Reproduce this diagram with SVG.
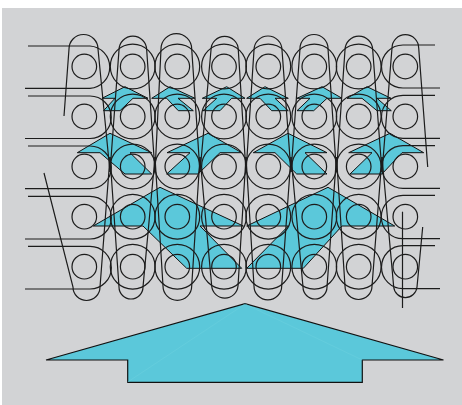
<svg xmlns="http://www.w3.org/2000/svg" width="462" height="405" viewBox="0 0 462 405">
<style>
.a{fill:#5bc8da;stroke:#111;stroke-width:1;stroke-linejoin:miter}
.b{fill:#5bc8da;stroke:#111;stroke-width:1.2;stroke-linejoin:miter}
.l{fill:none;stroke:#1c1c1c;stroke-width:1.2}
.f{fill:none;stroke:#6dd0df;stroke-width:.5}
.c{fill:none;stroke:#1c1c1c;stroke-width:1.2}
</style>
<defs>
<g id="cc"><circle class="c" r="22.4"/><circle class="c" r="12.3"/></g>
</defs>
<rect x="2" y="8" width="460" height="397" fill="#d2d3d5"/>
<g id="arrows">
<path class="a" d="M102,98.3L125,86.7L148,98.3H133L120,110.7H103.5L115,98.3Z"/>
<path class="a" d="M151.7,98.3L170,86.7L195,98.3H178L193.3,110.7H178.3L166.7,98.3Z"/>
<path class="a" d="M202.3,98.3L226.7,86.7L245,98.3H231.7L220,110.7H203L216.7,98.3Z"/>
<path class="a" d="M246.7,98.3L265,86.7L288.3,98.3H275L288.3,110.7H271.7L260,98.3Z"/>
<path class="a" d="M297,98.3L322,86.7L342,98.3H327L313.7,110.7H297L310,98.3Z"/>
<path class="a" d="M347,98.3L367,86.7L391,98.3H377L391.3,110.7H377L362,98.3Z"/>
<path class="a" d="M77.3,152.7L110,133.3L151.7,152.7H130L151.7,174H125L100,152.7Z"/>
<path class="a" d="M167,152.7L208,133.3L241.7,152.7H220L198,174H166.7L190,152.7Z"/>
<path class="a" d="M253.3,152.7L288,133.3L327,152.7H305L327,174H296.7L275,152.7Z"/>
<path class="a" d="M348.7,152.7L390,133.3L423.7,152.7H402L382,174H350L372,152.7Z"/>
<path class="a" d="M93.3,226L160,187.3L243.3,226H200L241.7,268.3H186.7L143,226Z"/>
<path class="a" d="M246.7,226L328,187.3L394.7,226H342L303.3,268.3H246.7L288.3,226Z"/>
</g>
<g id="circles">
<use href="#cc" x="132.7" y="66.5"/><use href="#cc" x="177.3" y="66.5"/><use href="#cc" x="224" y="66.5"/><use href="#cc" x="268.3" y="66.5"/><use href="#cc" x="314.3" y="66.5"/><use href="#cc" x="358.7" y="66.5"/>
<use href="#cc" x="132.7" y="116.5"/><use href="#cc" x="177.3" y="116.5"/><use href="#cc" x="224" y="116.5"/><use href="#cc" x="268.3" y="116.5"/><use href="#cc" x="314.3" y="116.5"/><use href="#cc" x="358.7" y="116.5"/>
<use href="#cc" x="132.7" y="166.5"/><use href="#cc" x="177.3" y="166.5"/><use href="#cc" x="224" y="166.5"/><use href="#cc" x="268.3" y="166.5"/><use href="#cc" x="314.3" y="166.5"/><use href="#cc" x="358.7" y="166.5"/>
<use href="#cc" x="132.7" y="216.7"/><use href="#cc" x="177.3" y="216.7"/><use href="#cc" x="224" y="216.7"/><use href="#cc" x="268.3" y="216.7"/><use href="#cc" x="314.3" y="216.7"/><use href="#cc" x="358.7" y="216.7"/>
<use href="#cc" x="132.7" y="266.7"/><use href="#cc" x="177.3" y="266.7"/><use href="#cc" x="224" y="266.7"/><use href="#cc" x="268.3" y="266.7"/><use href="#cc" x="314.3" y="266.7"/><use href="#cc" x="358.7" y="266.7"/>
<circle class="c" cx="84.3" cy="66.5" r="12.3"/><circle class="c" cx="84.3" cy="116.5" r="12.3"/><circle class="c" cx="84.3" cy="166.5" r="12.3"/><circle class="c" cx="84.3" cy="216.7" r="12.3"/><circle class="c" cx="84.3" cy="266.7" r="12.3"/>
<circle class="c" cx="405.3" cy="66.5" r="12.3"/><circle class="c" cx="405.3" cy="116.5" r="12.3"/><circle class="c" cx="405.3" cy="166.5" r="12.3"/><circle class="c" cx="405.3" cy="216.7" r="12.3"/><circle class="c" cx="405.3" cy="266.7" r="12.3"/>
</g>
<g id="connectors">
<path class="l" d="M28,46H90A21.2,21.2 0 0 1 90,88.3H25"/>
<path class="l" d="M28,96H90A21.2,21.2 0 0 1 90,138.5H25"/>
<path class="l" d="M28,146H90A21.3,21.3 0 0 1 90,188.7H25"/>
<path class="l" d="M28,196.3H90A21.3,21.3 0 0 1 90,239H25"/>
<path class="l" d="M28,246.3H90A21.3,21.3 0 0 1 90,289H25"/>
<path class="l" d="M435,45H403A21.5,21.5 0 0 0 403,88H440"/>
<path class="l" d="M435,95.3H403A21.5,21.5 0 0 0 403,138.3H440"/>
<path class="l" d="M435,145.7H403A21.3,21.3 0 0 0 403,188.3H440"/>
<path class="l" d="M435,195.3H403A21.7,21.7 0 0 0 403,238.7H440"/>
<path class="l" d="M435,245.7H403A21.5,21.5 0 0 0 403,288.7H440"/>
<path class="l" d="M64,116L69,49A14.5,14.5 0 0 1 98,49L110,172"/>
<path class="l" d="M110,172L119,50A13.8,13.8 0 0 1 146.7,50L155,172"/>
<path class="l" d="M155,172L161,49A15.3,15.3 0 0 1 191.7,49L200,172"/>
<path class="l" d="M200,172L211,50A13.6,13.6 0 0 1 238.3,50L246,172"/>
<path class="l" d="M246,172L254,50A14,14 0 0 1 282,50L291,172"/>
<path class="l" d="M291,172L300,48.5A14,14 0 0 1 328,48.5L336.5,172"/>
<path class="l" d="M336.5,172L345,50A13.8,13.8 0 0 1 372.7,50L382,172"/>
<path class="l" d="M382,172L392,48A13.3,13.3 0 0 1 418.7,48L427.7,167"/>
<path class="l" d="M44,173L73,287A13.5,13.5 0 0 0 100,287L110,157"/>
<path class="l" d="M110,157L119,287A12,12 0 0 0 143,287L155,157"/>
<path class="l" d="M155,157L163,286A14.3,14.3 0 0 0 191.7,286L200,157"/>
<path class="l" d="M200,157L211.7,286A13.2,13.2 0 0 0 238,286L246,157"/>
<path class="l" d="M246,157L254,286A13.8,13.8 0 0 0 281.7,286L291,157"/>
<path class="l" d="M291,157L303,287A12,12 0 0 0 327,287L336.5,157"/>
<path class="l" d="M336.5,157L345,286A13.5,13.5 0 0 0 372,286L382,157"/>
<path class="l" d="M382,157L393.7,287A11.7,11.7 0 0 0 417,287L422.7,227"/>
<path class="l" d="M402.5,211.7V308"/>
</g>
<g id="big-arrow">
<path class="b" d="M46,360L245,303.7L443.5,360H362.3V382.3H127.7V360Z"/>
<path class="f" d="M245,304L127.7,382M245,304L362.3,360"/>
</g>
</svg>
